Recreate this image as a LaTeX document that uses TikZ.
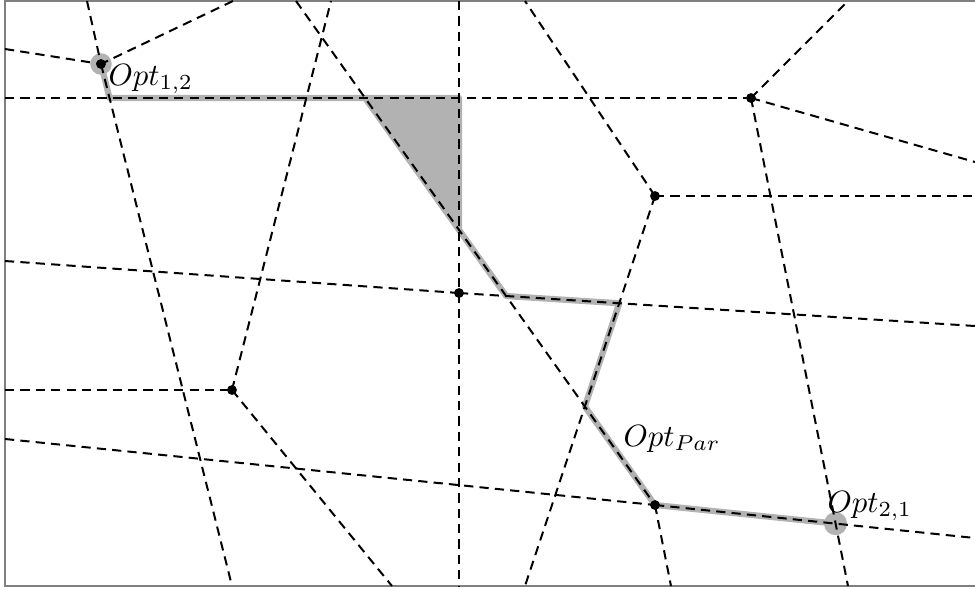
\documentclass[tikz,border=0pt]{standalone}
\begin{document}
\begin{tikzpicture}[x=0.325pt,y=-0.325pt,
  dline/.style={line width=0.65pt,dash pattern=on 3pt off 2pt},
  gline/.style={line width=2pt,color=black!30,line join=round,line cap=round},
  gfill/.style={fill=black!30,draw=black!30,line width=2pt,line join=round},
  dot/.style={circle,fill=black,inner sep=0pt,minimum size=3.2pt},
  gdot/.style={circle,fill=black!30,inner sep=0pt,minimum size=7pt},
  lbl/.style={inner sep=0pt,anchor=base west,font=\fontsize{10.4}{12}\selectfont},
  frame/.style={line width=0.6pt,draw=black!50}]
\useasboundingbox (0,0) rectangle (975,589);
% vertices
\coordinate (A) at (101,64);
\coordinate (B) at (751,98);
\coordinate (C) at (655,196);
\coordinate (D) at (459,293);
\coordinate (E) at (232,390);
\coordinate (F) at (655,505);
% border ends
\coordinate (a1) at (5,49);
\coordinate (a2) at (233,1);
\coordinate (a3) at (87,1);
\coordinate (a4) at (232,586);
\coordinate (h1) at (5,98);
\coordinate (b1) at (848,1);
\coordinate (b2) at (975,162);
\coordinate (b3) at (848,586);
\coordinate (c1) at (975,196);
\coordinate (c2) at (525,1);
\coordinate (c3) at (525,586);
\coordinate (d1) at (459,1);
\coordinate (d2) at (459,586);
\coordinate (d3) at (5,261);
\coordinate (d4) at (975,326);
\coordinate (e1) at (5,390);
\coordinate (e2) at (331,1);
\coordinate (e3) at (392,586);
\coordinate (f0) at (296,1);
\coordinate (f1) at (5,439);
\coordinate (f2) at (975,538);
\coordinate (f3) at (671,586);
% intersections on the grey path
\coordinate (P1) at (intersection of A--a4 and h1--B);
\coordinate (P2) at (intersection of h1--B and f0--F);
\coordinate (P3) at (intersection of h1--B and d1--d2);
\coordinate (P4) at (intersection of d1--d2 and f0--F);
\coordinate (P5) at (intersection of f0--F and D--d4);
\coordinate (P6) at (intersection of D--d4 and C--c3);
\coordinate (P7) at (intersection of C--c3 and f0--F);
\coordinate (G) at (intersection of B--b3 and F--f2);
% grey highlights
\node[gdot] (gA) at (A) {};
\node[gdot,minimum size=7.5pt] (gG) at (G) {};
\filldraw[gfill] (P2) -- (P3) -- (P4) -- cycle;
\draw[gline] (A) -- (P1) -- (P2);
\draw[gline] (P4) -- (P5) -- (P6) -- (P7) -- (F) -- (G);
% frame
\draw[frame] (985,586) -- (5,586) -- (5,1) -- (985,1);
% dashed lines
\draw[dline] (a1) -- (A);
\draw[dline] (a2) -- (A);
\draw[dline] (a3) -- (A);
\draw[dline] (A) -- (a4);
\draw[dline] (h1) -- (B);
\draw[dline] (B) -- (b1);
\draw[dline] (B) -- (b2);
\draw[dline] (B) -- (b3);
\draw[dline] (C) -- (c1);
\draw[dline] (C) -- (c2);
\draw[dline] (C) -- (c3);
\draw[dline] (d1) -- (d2);
\draw[dline] (d3) -- (D);
\draw[dline] (D) -- (d4);
\draw[dline] (e1) -- (E);
\draw[dline] (E) -- (e2);
\draw[dline] (E) -- (e3);
\draw[dline] (f0) -- (F);
\draw[dline] (f1) -- (F);
\draw[dline] (F) -- (f2);
\draw[dline] (F) -- (f3);
% dots
\node[dot] (dA) at (A) {};
\node[dot] (dB) at (B) {};
\node[dot] (dC) at (C) {};
\node[dot] (dD) at (D) {};
\node[dot] (dE) at (E) {};
\node[dot] (dF) at (F) {};
% labels
\node[lbl] (l12) at (108,85) {$Opt_{1,2}$};
\node[lbl] (lpar) at (623,446) {$Opt_{Par}$};
\node[lbl] (l21) at (827,512) {$Opt_{2,1}$};
\end{tikzpicture}
\end{document}
